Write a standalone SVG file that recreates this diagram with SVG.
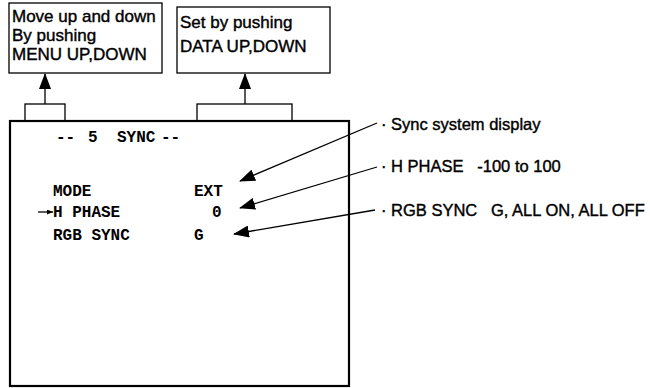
<svg xmlns="http://www.w3.org/2000/svg" width="650" height="388" viewBox="0 0 650 388">
<style>
.box{fill:#fff;stroke:#000;stroke-width:1.3}
.main{fill:#fff;stroke:#000;stroke-width:2.2}
.sans{font-family:"Liberation Sans",Arial,sans-serif;font-size:16.5px;fill:#000;stroke:#000;stroke-width:0.4}
.top{font-size:17px}
.mono{font-family:"Liberation Mono","Courier New",monospace;font-size:16px;font-weight:bold;fill:#000}
.line{stroke:#000;stroke-width:1.3;fill:none}
</style>
<defs>
<marker id="ah" markerUnits="userSpaceOnUse" markerWidth="16" markerHeight="12" viewBox="0 0 16 12" refX="15" refY="6" orient="auto">
<path d="M0,0 L16,6 L0,12 Z" fill="#000"/>
</marker>
<marker id="ahs" markerUnits="userSpaceOnUse" markerWidth="6" markerHeight="5" viewBox="0 0 6 5" refX="6" refY="2.5" orient="auto">
<path d="M0,0 L6,2.5 L0,5 Z" fill="#000"/>
</marker>
</defs>
<g id="note-menu">
<rect class="box" x="9" y="3" width="153" height="70"/>
<text class="sans top" x="12" y="22">Move up and down</text>
<text class="sans top" x="12" y="41">By pushing</text>
<text class="sans top" x="12" y="60">MENU UP,DOWN</text>
</g>
<g id="note-data">
<rect class="box" x="177" y="7" width="153" height="66"/>
<text class="sans top" x="180" y="28">Set by pushing</text>
<text class="sans top" x="180" y="52">DATA UP,DOWN</text>
</g>
<g id="screen">
<rect class="box" x="25" y="104" width="40" height="17"/>
<rect class="box" x="197" y="104" width="95" height="17"/>
<rect class="main" x="10" y="121" width="339" height="265"/>
<text class="mono" x="56" y="142">--</text>
<text class="mono" x="88" y="142">5</text>
<text class="mono" x="117" y="142">SYNC</text>
<text class="mono" x="161" y="142">--</text>
<text class="mono" x="53" y="196">MODE</text>
<text class="mono" x="194" y="196">EXT</text>
<text class="mono" x="53" y="217">H PHASE</text>
<text class="mono" x="212" y="217">0</text>
<text class="mono" x="53" y="240">RGB SYNC</text>
<text class="mono" x="194" y="240">G</text>
</g>
<g id="label-sync">
<text class="sans" x="381" y="130">· Sync system display</text>
</g>
<g id="label-hphase">
<text class="sans" x="381" y="172" xml:space="preserve">· H PHASE   -100 to 100</text>
</g>
<g id="label-rgb">
<text class="sans" x="381" y="216" xml:space="preserve">· RGB SYNC   G, ALL ON, ALL OFF</text>
</g>
<g id="connectors">
<line class="line" x1="45" y1="104" x2="45" y2="74" marker-end="url(#ah)"/>
<line class="line" x1="245" y1="104" x2="245" y2="74" marker-end="url(#ah)"/>
<line class="line" x1="377" y1="123" x2="240" y2="181" marker-end="url(#ah)"/>
<line class="line" x1="377" y1="167" x2="240" y2="208" marker-end="url(#ah)"/>
<line class="line" x1="375" y1="210" x2="234" y2="234" marker-end="url(#ah)"/>
<line class="line" x1="38" y1="212" x2="53" y2="212" marker-end="url(#ahs)"/>
</g>
</svg>
